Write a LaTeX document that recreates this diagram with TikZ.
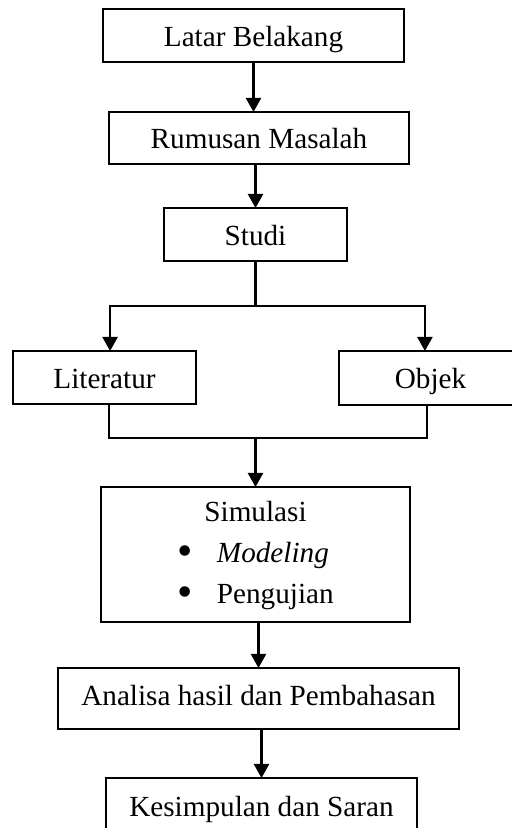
\documentclass[tikz,border=0pt]{standalone}
\usepackage{fontspec}
\setmainfont{Liberation Serif}
\usetikzlibrary{arrows.meta}
\newcommand{\bigdot}{\raisebox{-1.2pt}[7pt][0pt]{\fontsize{18}{14}\selectfont\textbullet}}
\begin{document}
\begin{tikzpicture}[x=0.411pt,y=-0.411pt,
	box/.style={draw,line width=1pt,inner sep=0pt,outer sep=0pt,font=\fontsize{12}{14}\selectfont},
	line/.style={text height=9.5pt,text depth=0.5pt},
	arr/.style={line width=1pt,-{Triangle[length=5.8pt,width=6.2pt]}},
	link/.style={line width=1pt}]
	% Frame
	\useasboundingbox (0,0) rectangle (512,828);
	\clip (0,0) rectangle (512,828);
	% Boxes
	\node [box,line,minimum width=123.7pt,minimum height=21.8pt] (latar) at (253.5,35.5) {Latar Belakang};
	\node [box,line,minimum width=123.3pt,minimum height=21.4pt] (rumusan) at (259,138) {Rumusan Masalah};
	\node [box,line,minimum width=75.2pt,minimum height=21.8pt] (studi) at (255.5,234.5) {Studi};
	\node [box,line,minimum width=75.2pt,minimum height=21.8pt] (literatur) at (104.5,377.5) {Literatur};
	\node [box,line,minimum width=75.2pt,minimum height=22.2pt] (objek) at (430.5,378) {Objek};
	\node [box,minimum width=127pt,minimum height=55.5pt] (simulasi) at (255.5,554.5)
		{\def\arraystretch{1.2}\begin{tabular}{@{}l@{\hspace{10pt}}l@{}}
		\multicolumn{2}{c}{Simulasi}\\
		\bigdot & \textit{Modeling}\\
		\bigdot & Pengujian
		\end{tabular}};
	\node [box,text height=8pt,text depth=2.2pt,minimum width=164.8pt,minimum height=25.1pt] (analisa) at (258.5,698.5) {Analisa hasil dan Pembahasan};
	\node [box,line,minimum width=127.8pt,minimum height=22.6pt] (kesimpulan) at (261.5,805.5) {Kesimpulan dan Saran};
	% Split and merge
	\coordinate (split) at (255.5,306);
	\coordinate (merge) at (255.5,438);
	% Arrows
	\draw [arr] (latar.south) -- (latar.south |- rumusan.north);
	\draw [arr] (rumusan.south -| studi.north) -- (studi.north);
	\draw [link] (studi.south) -- (split);
	\draw [arr] (split) -| ([xshift=2.3pt]literatur.north);
	\draw [arr] (split) -| ([xshift=-2.3pt]objek.north);
	\draw [link] ([xshift=1.8pt]literatur.south) |- (merge) -| ([xshift=-1.4pt]objek.south);
	\draw [arr] (merge) -- (simulasi.north);
	\draw [arr] (simulasi.south -| analisa.north) -- (analisa.north);
	\draw [arr] (analisa.south -| kesimpulan.north) -- (kesimpulan.north);
\end{tikzpicture}
\end{document}
